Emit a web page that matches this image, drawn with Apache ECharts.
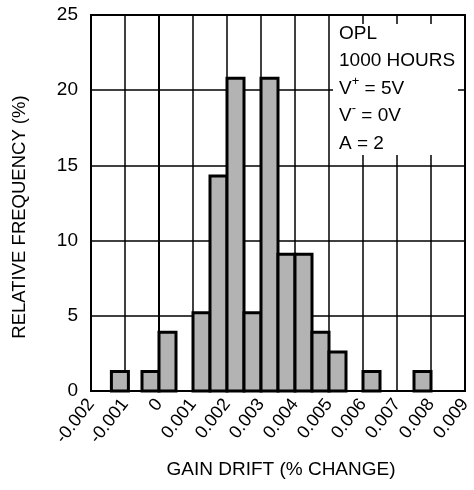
<!DOCTYPE html>
<html>
<head>
<meta charset="utf-8">
<script src="https://cdn.jsdelivr.net/npm/echarts@6/dist/echarts.min.js"></script>
<style>html,body{margin:0;padding:0;background:#fff}#c{width:474px;height:490px}</style>
</head>
<body>
<div id="c"></div>
<script>
// Histogram bins (gain drift, % change) and relative frequency (%)
var binStart = [-0.0014, -0.0005, 0.0000, 0.0010, 0.0015, 0.0020, 0.0025, 0.0030, 0.0035, 0.0040, 0.0045, 0.0050, 0.0060, 0.0075];
var binEnd   = [-0.0009,  0.0000, 0.0005, 0.0015, 0.0020, 0.0025, 0.0030, 0.0035, 0.0040, 0.0045, 0.0050, 0.0055, 0.0065, 0.0080];
var freq     = [1.3, 1.3, 3.9, 5.2, 14.3, 20.8, 5.2, 20.8, 9.1, 9.1, 3.9, 2.6, 1.3, 1.3];
var xTicks   = [-0.002, -0.001, 0, 0.001, 0.002, 0.003, 0.004, 0.005, 0.006, 0.007, 0.008, 0.009];
var xTickLabels = ['-0.002','-0.001','0','0.001','0.002','0.003','0.004','0.005','0.006','0.007','0.008','0.009'];
var yTickLabels = ['0','5','10','15','20','25'];
var noteLines = ['OPL', '1000 HOURS', 'V+ = 5V', 'V- = 0V', 'A = 2'];

var data = binStart.map(function (s, i) { return [s, binEnd[i], freq[i]]; });
var FONT = 'Liberation Sans, Arial, sans-serif';

var chart = echarts.init(document.getElementById('c'), null, {renderer: 'canvas'});
chart.setOption({
  animation: false,
  backgroundColor: '#fff',
  grid: {left: 91, right: 9, top: 15, bottom: 99, show: true, borderColor: '#000', borderWidth: 2, backgroundColor: 'transparent'},
  xAxis: {
    type: 'value', min: -0.002, max: 0.009, interval: 0.001,
    axisLine: {show: true, lineStyle: {color: '#000', width: 2}},
    axisTick: {show: false},
    splitLine: {show: true, lineStyle: {color: '#000', width: 1.5}},
    axisLabel: {
      color: '#000', fontSize: 18, fontFamily: FONT, rotate: 52, margin: 10,
      formatter: function (v) {
        var best = 0, d = Infinity;
        xTicks.forEach(function (t, i) { var dd = Math.abs(t - v); if (dd < d) { d = dd; best = i; } });
        return xTickLabels[best];
      }
    }
  },
  yAxis: {
    type: 'value', min: 0, max: 25, interval: 5,
    axisLine: {show: true, lineStyle: {color: '#000', width: 2}},
    axisTick: {show: false},
    splitLine: {show: true, lineStyle: {color: '#000', width: 1.5}},
    axisLabel: {
      color: '#000', fontSize: 19, fontFamily: FONT, margin: 13,
      formatter: function (v) { return yTickLabels[Math.round(v / 5)]; }
    }
  },
  series: [{
    type: 'custom',
    z: 5,
    encode: {x: [0, 1], y: 2},
    data: data,
    renderItem: function (params, api) {
      var p0 = api.coord([api.value(0), 0]);
      var p1 = api.coord([api.value(1), api.value(2)]);
      return {
        type: 'rect',
        shape: {x: p0[0], y: p1[1], width: p1[0] - p0[0], height: p0[1] - p1[1]},
        style: {fill: '#b3b3b3', stroke: '#000', lineWidth: 3}
      };
    }
  }],
  graphic: [
    {type: 'rect', z: 50, shape: {x: 333, y: 24, width: 125, height: 131}, style: {fill: '#fff'}},
    {type: 'text', z: 60, left: 339, top: 24, style: {
      text: '{t|' + noteLines[0] + '}\n{t|' + noteLines[1] + '}\n{t|V}{s|+}{t| = 5V}\n{t|V}{s|-}{t| = 0V}\n{t|' + noteLines[4] + '}',
      rich: {
        t: {fontSize: 19, fontFamily: FONT, fill: '#000', lineHeight: 27.5},
        s: {fontSize: 13, fontFamily: FONT, fill: '#000', verticalAlign: 'top', lineHeight: 27.5, padding: [0, 0, 10, 0]}
      }
    }},
    {type: 'text', z: 60, x: 20, y: 217, rotation: Math.PI / 2, style: {
      text: 'RELATIVE FREQUENCY (%)', fontSize: 18.5, fontFamily: FONT, fill: '#000', align: 'center', verticalAlign: 'middle'
    }},
    {type: 'text', z: 60, x: 281, y: 470, style: {
      text: 'GAIN DRIFT (% CHANGE)', fontSize: 19, fontFamily: FONT, fill: '#000', align: 'center', verticalAlign: 'middle'
    }}
  ]
});
</script>
</body>
</html>
